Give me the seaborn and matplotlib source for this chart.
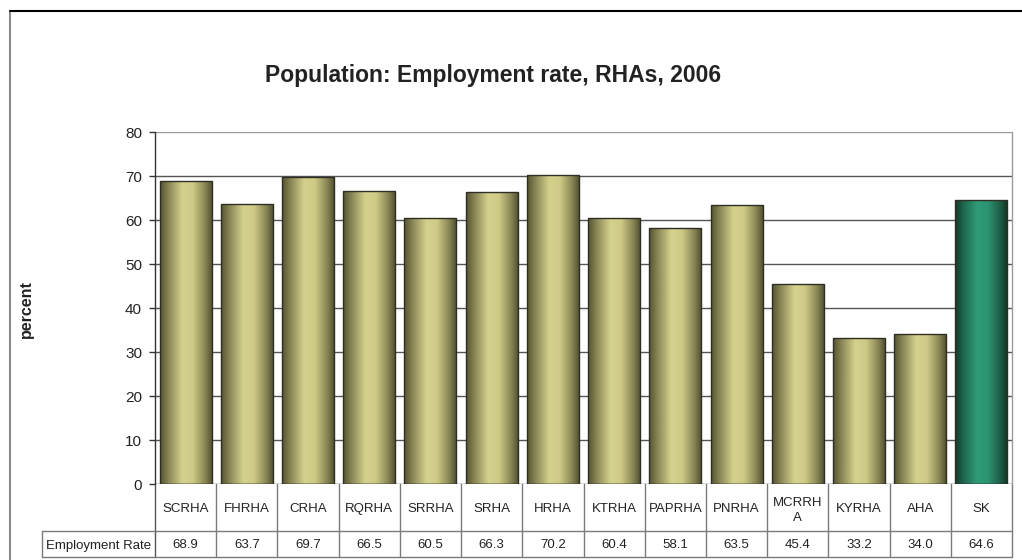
import numpy as np
import pandas as pd
import matplotlib
matplotlib.use("Agg")
import matplotlib.pyplot as plt
from matplotlib.colors import LinearSegmentedColormap
from matplotlib.lines import Line2D
import seaborn as sns

# Employment rate by Regional Health Authority, 2006
categories = ["SCRHA", "FHRHA", "CRHA", "RQRHA", "SRRHA", "SRHA", "HRHA",
              "KTRHA", "PAPRHA", "PNRHA", "MCRRHA", "KYRHA", "AHA", "SK"]
column_labels = ["SCRHA", "FHRHA", "CRHA", "RQRHA", "SRRHA", "SRHA", "HRHA",
                 "KTRHA", "PAPRHA", "PNRHA", "MCRRH\nA", "KYRHA", "AHA", "SK"]
rates = [68.9, 63.7, 69.7, 66.5, 60.5, 66.3, 70.2,
         60.4, 58.1, 63.5, 45.4, 33.2, 34.0, 64.6]
row_label = "Employment Rate"
y_ticks = [0, 10, 20, 30, 40, 50, 60, 70, 80]

sns.set_theme(style="white")
plt.rcParams["font.family"] = ["Liberation Sans", "DejaVu Sans"]

df = pd.DataFrame({"region": categories, "rate": rates})

fig = plt.figure(figsize=(10.22, 5.6), dpi=100)
ax = fig.add_axes([155 / 1022, 1 - 484 / 560, (1012 - 155) / 1022, 352 / 560])

olive = "#c8c47f"
green = "#2a8f6d"
palette = {c: (green if c == "SK" else olive) for c in categories}
sns.barplot(data=df, x="region", y="rate", hue="region", palette=palette,
            width=0.85, edgecolor="#2e2e24", linewidth=1.0, legend=False,
            saturation=1, ax=ax, zorder=3)

# cylinder-style shading on each bar
olive_cmap = LinearSegmentedColormap.from_list(
    "olive", [(0, "#55532f"), (0.18, "#8e8b5a"), (0.42, "#d4d18c"),
              (0.62, "#cfcb86"), (0.85, "#8a8757"), (1, "#4e4c2d")])
green_cmap = LinearSegmentedColormap.from_list(
    "green", [(0, "#143a2b"), (0.18, "#1f6b51"), (0.42, "#2f9b77"),
              (0.62, "#2c9472"), (0.85, "#1e5e47"), (1, "#123326")])
grad = np.linspace(0, 1, 256).reshape(1, -1)
for patch, cat in zip(ax.patches, categories):
    x0 = patch.get_x()
    w = patch.get_width()
    h = patch.get_height()
    cmap = green_cmap if cat == "SK" else olive_cmap
    im = ax.imshow(grad, cmap=cmap, aspect="auto", extent=(x0, x0 + w, 0, h),
                   zorder=3.5, interpolation="bicubic")
    im.set_clip_path(patch)
    patch.set_facecolor("none")
    patch.set_zorder(4)

ax.set_xlim(-0.5, len(categories) - 0.5)
ax.set_ylim(0, 80)
ax.set_yticks(y_ticks)
ax.set_yticklabels([str(t) for t in y_ticks], fontsize=11, color="#222222")
ax.set_xticks([])
ax.set_xlabel("")
ax.set_ylabel("")
ax.tick_params(axis="y", direction="out", length=4.3, width=1, color="#333333",
               pad=5, left=True)
for t in y_ticks[1:-1]:
    ax.axhline(t, color="#555555", lw=1.0, zorder=1)
ax.axhline(80, color="#9a9a9a", lw=1.0, zorder=1)
for side in ["top", "bottom"]:
    ax.spines[side].set_visible(False)
ax.spines["left"].set_color("#333333")
ax.spines["left"].set_linewidth(1.0)
ax.spines["right"].set_color("#9a9a9a")
ax.spines["right"].set_linewidth(1.0)
ax.axhline(0, color="#333333", lw=1.0, zorder=5)

# data table below the bars
n = len(categories)
row1 = -(531 - 484) / 352
row2 = -(557 - 484) / 352
left_col = (42 - 155) / 857
tbl = dict(transform=ax.transAxes, clip_on=False, color="#7a7a7a", lw=1.0)
ax.add_line(Line2D([0, 0], [0, row2], **{**tbl, "color": "#555555"}))
ax.add_line(Line2D([left_col, 1], [row1, row1], **tbl))
ax.add_line(Line2D([left_col, 1], [row2, row2], **tbl))
ax.add_line(Line2D([left_col, left_col], [row1, row2], **tbl))
for i in range(1, n + 1):
    ax.add_line(Line2D([i / n, i / n], [0, row2], **tbl))
for i, (lab, val) in enumerate(zip(column_labels, rates)):
    xc = (i + 0.5) / n
    ax.text(xc, row1 / 2, lab, transform=ax.transAxes, ha="center",
            va="center_baseline", fontsize=9.5, color="#222222",
            linespacing=1.35)
    ax.text(xc, (row1 + row2) / 2, f"{val:.1f}", transform=ax.transAxes,
            ha="center", va="center_baseline", fontsize=9.5, color="#222222")
ax.text((left_col + 0) / 2, (row1 + row2) / 2, row_label,
        transform=ax.transAxes, ha="center", va="center_baseline",
        fontsize=9.5, color="#222222")

fig.text(493 / 1022, 1 - 82 / 560, "Population: Employment rate, RHAs, 2006",
         ha="center", va="baseline", fontsize=16.5, fontweight="bold",
         color="#222222")
fig.text(26 / 1022, 1 - 309 / 560, "percent", rotation=90, ha="center",
         va="center", fontsize=11.5, fontweight="bold", color="#222222")

# frame lines around the chart
fig.add_artist(Line2D([10 / 1022, 10 / 1022], [0, 1 - 11 / 560],
                      transform=fig.transFigure, color="#8a8a8a", lw=1.5))
fig.add_artist(Line2D([10 / 1022, 1], [1 - 11 / 560, 1 - 11 / 560],
                      transform=fig.transFigure, color="#000000", lw=1.5))

fig.savefig("out.png", dpi=100, facecolor="white")
